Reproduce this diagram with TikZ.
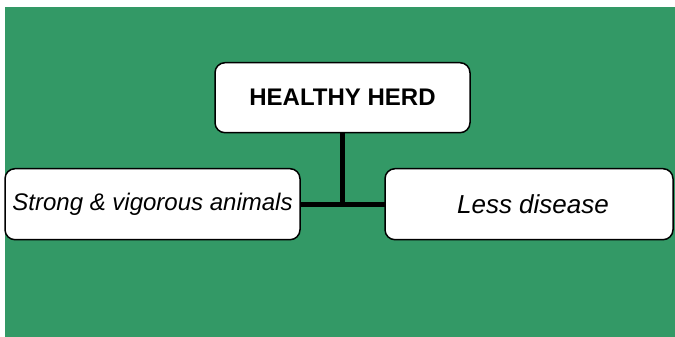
\documentclass[tikz,border=0pt]{standalone}
\usepackage{fontspec}
\setmainfont{Liberation Sans}
\definecolor{bggreen}{RGB}{51,153,102}
\begin{document}
\begin{tikzpicture}[x=1pt,y=-1pt,
  box/.style={draw=black,line width=1.5pt,fill=white,rounded corners=10pt,inner sep=0pt,outer sep=0pt},
  conn/.style={line width=5pt,draw=black}]
\useasboundingbox (0,0) rectangle (675,337);
\fill[bggreen] (5,7) rectangle (675,337);
\node[box,minimum width=255pt,minimum height=70pt,font=\fontsize{24}{28}\selectfont\bfseries] (top) at (342.5,97.7) {\raisebox{-1pt}{HEALTHY HERD}};
\node[box,minimum width=295pt,minimum height=71pt,font=\fontsize{24}{28}\selectfont\itshape] (left) at (152.5,204.2) {\raisebox{-1pt}{Strong \& vigorous animals}};
\node[box,minimum width=288pt,minimum height=71pt,font=\fontsize{26}{30}\selectfont\itshape] (right) at (529,204.2) {\hspace*{8pt}Less disease};
\coordinate (j) at (top.south |- left.east);
\draw[conn] (top.south) -- (j);
\draw[conn] (left.east) -- (right.west);
\end{tikzpicture}
\end{document}
